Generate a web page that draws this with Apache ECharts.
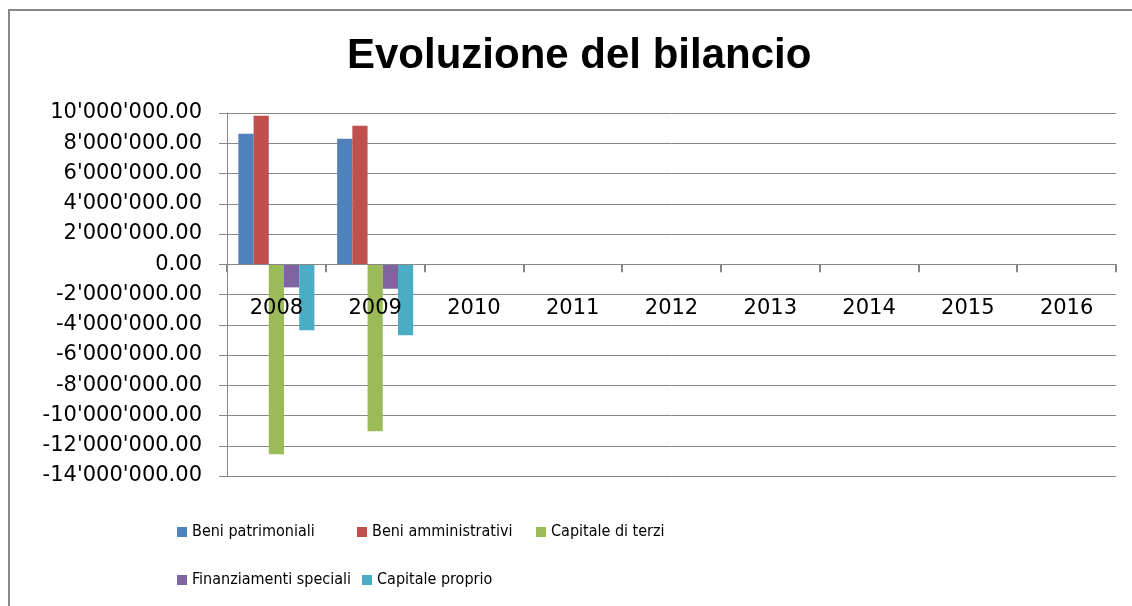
<!DOCTYPE html>
<html>
<head>
<meta charset="utf-8">
<script src="https://cdn.jsdelivr.net/npm/echarts@6/dist/echarts.min.js"></script>
<style>
  html, body { margin: 0; padding: 0; background: #fff; }
  #chart { width: 1132px; height: 606px; }
</style>
</head>
<body>
<div id="chart"></div>
<script>
var years = ["2008", "2009", "2010", "2011", "2012", "2013", "2014", "2015", "2016"];
var beniPatrimoniali = [8620000, 8290000, null, null, null, null, null, null, null];
var beniAmministrativi = [9810000, 9150000, null, null, null, null, null, null, null];
var capitaleTerzi = [-12560000, -11040000, null, null, null, null, null, null, null];
var finanziamentiSpeciali = [-1530000, -1620000, null, null, null, null, null, null, null];
var capitaleProprio = [-4370000, -4700000, null, null, null, null, null, null, null];

var names = ["Beni patrimoniali", "Beni amministrativi", "Capitale di terzi", "Finanziamenti speciali", "Capitale proprio"];
var colors = ["#4F81BD", "#C0504D", "#9BBB59", "#8064A2", "#4BACC6"];
var values = [beniPatrimoniali, beniAmministrativi, capitaleTerzi, finanziamentiSpeciali, capitaleProprio];

// 10'000'000.00 style
function fmt(v) {
  var neg = v < 0;
  var s = String(Math.abs(Math.round(v)));
  s = s.replace(/\B(?=(\d{3})+(?!\d))/g, "'");
  return (neg ? "-" : "") + s + ".00";
}

var legendPos = [[177, 524], [357, 524], [536, 524], [177, 572], [362, 572]];
var legendFont = "'Liberation Sans Narrow', 'DejaVu Sans Condensed', sans-serif";

var chart = echarts.init(document.getElementById("chart"));

var series = [];
var legends = [];
for (var i = 0; i < names.length; i++) {
  series.push({
    name: names[i],
    type: "bar",
    data: values[i],
    barGap: "0%",
    barCategoryGap: "23%",
    itemStyle: { color: colors[i] }
  });
  legends.push({
    data: [names[i]],
    left: legendPos[i][0],
    top: legendPos[i][1],
    icon: "rect",
    itemWidth: 10,
    itemHeight: 10,
    itemGap: 0,
    padding: 0,
    textStyle: { fontFamily: legendFont, fontSize: 16, color: "#000" }
  });
}

// grid 113..476, zero sits at 10/24 of the height
var gridTop = 113, gridBottom = 130;
var plotH = 606 - gridTop - gridBottom;
var zeroOffset = -(plotH * 14 / 24);

var option = {
  animation: false,
  backgroundColor: "#fff",
  title: {
    text: "Evoluzione del bilancio",
    left: 342,
    top: 30,
    textStyle: { fontFamily: "'Liberation Sans', Arial, sans-serif", fontWeight: "bold", fontSize: 42, color: "#000" }
  },
  graphic: [{
    type: "rect",
    shape: { x: 9, y: 10, width: 1200, height: 700 },
    style: { fill: null, stroke: "#878787", lineWidth: 2 },
    silent: true
  }],
  legend: legends,
  grid: { left: 227, right: 16, top: gridTop, bottom: gridBottom },
  xAxis: {
    type: "category",
    data: years,
    offset: zeroOffset,
    z: 5,
    axisLine: { show: true, onZero: false, lineStyle: { color: "#878787", width: 1 } },
    axisTick: { show: true, length: 8, lineStyle: { color: "#878787", width: 2 } },
    axisLabel: { color: "#000", fontFamily: "'DejaVu Sans', sans-serif", fontSize: 21, margin: 34 }
  },
  yAxis: {
    type: "value",
    min: -14000000,
    max: 10000000,
    interval: 2000000,
    axisLine: { show: true, lineStyle: { color: "#878787", width: 1 } },
    axisTick: { show: true, length: 8, lineStyle: { color: "#878787" } },
    splitLine: { show: true, lineStyle: { color: "#878787", width: 1 } },
    axisLabel: {
      color: "#000",
      fontFamily: "'DejaVu Sans', sans-serif",
      fontSize: 21,
      margin: 25,
      formatter: fmt
    }
  },
  series: series
};

chart.setOption(option);
</script>
</body>
</html>
